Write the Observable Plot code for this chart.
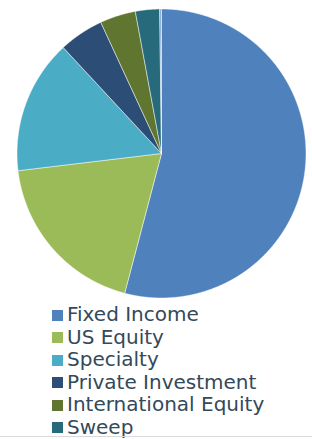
<!DOCTYPE html>
<html>
<head>
<meta charset="utf-8">
<script src="https://cdn.jsdelivr.net/npm/d3@7"></script>
<script src="https://cdn.jsdelivr.net/npm/@observablehq/plot@0.6"></script>
<style>
  html, body { margin: 0; padding: 0; background: #fff; overflow: hidden; }
  #wrap { position: relative; width: 312px; height: 439px; }
  #legend { position: absolute; left: 52px; top: 303px; font-family: "DejaVu Sans", sans-serif; font-size: 20px; color: #34495a; }
  .item { height: 22.5px; line-height: 22.5px; display: flex; align-items: center; white-space: nowrap; }
  .sw { width: 11px; height: 11px; margin-right: 4px; flex: none; position: relative; top: 1px; }
  #border { position: absolute; left: 0; top: 436px; width: 312px; height: 1px; background: #d9d9d9; }
</style>
</head>
<body>
<div id="wrap">
  <div id="chart"></div>
  <div id="legend"></div>
  <div id="border"></div>
</div>
<script>
const categories = ["Fixed Income", "US Equity", "Specialty", "Private Investment", "International Equity", "Sweep", "Other"];
const values = [54.1, 19.0, 15.0, 5.0, 4.0, 2.7, 0.2];
const colors = ["#4F81BD", "#9BBB59", "#4BACC6", "#2C4D75", "#5F7530", "#276A7C", "#7EA3D3"];
const legendCount = 6; // the reference legend is cut off after six entries

const data = categories.map((c, i) => ({category: c, value: values[i]}));
const arcs = d3.pie().sort(null).value(d => d.value)(data);

// build slice outlines in unit-circle coordinates (angle clockwise from top)
const pts = [];
arcs.forEach((a, i) => {
  const cat = a.data.category;
  pts.push({category: cat, x: 0, y: 0});
  const n = Math.max(2, Math.ceil((a.endAngle - a.startAngle) / 0.005));
  for (let k = 0; k <= n; k++) {
    const t = a.startAngle + (a.endAngle - a.startAngle) * k / n;
    pts.push({category: cat, x: Math.sin(t), y: Math.cos(t)});
  }
  pts.push({category: cat, x: 0, y: 0});
});

const cx = 161, cy = 153, r = 144.5, W = 312, H = 300;
const chart = Plot.plot({
  width: W,
  height: H,
  marginLeft: cx - r,
  marginRight: W - (cx + r),
  marginTop: cy - r,
  marginBottom: H - (cy + r),
  x: {domain: [-1, 1], axis: null},
  y: {domain: [-1, 1], axis: null},
  color: {domain: categories, range: colors},
  marks: [
    Plot.line(pts, {x: "x", y: "y", z: "category", fill: "category", stroke: "white", strokeWidth: 0.6, strokeOpacity: 0.8, curve: "linear"})
  ]
});
document.getElementById("chart").appendChild(chart);

const legend = document.getElementById("legend");
categories.slice(0, legendCount).forEach((c, i) => {
  const item = document.createElement("div");
  item.className = "item";
  const sw = document.createElement("span");
  sw.className = "sw";
  sw.style.background = colors[i];
  const tx = document.createElement("span");
  tx.textContent = c;
  item.appendChild(sw);
  item.appendChild(tx);
  legend.appendChild(item);
});
</script>
</body>
</html>
